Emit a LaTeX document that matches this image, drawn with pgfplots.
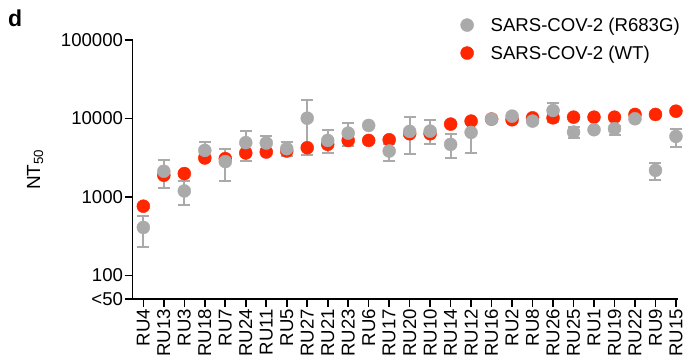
\documentclass[border=0pt]{standalone}
\usepackage{fontspec}
\setmainfont{Liberation Sans}
\usepackage{pgfplots}
\usepackage{pgfplotstable}
\pgfplotsset{compat=1.18}
\definecolor{wtred}{RGB}{255,38,0}
\definecolor{mutgrey}{RGB}{170,170,170}

\pgfplotstableread{
x red
0 762
1 1888
2 1982
3 3133
4 3077
5 3631
6 3733
7 3846
8 4236
9 4677
10 5247
11 5247
12 5356
13 6383
14 6383
15 8471
16 9251
17 9820
18 9620
19 10190
20 10190
21 10390
22 10390
23 10390
24 11250
25 11250
26 12380
}\wttable

\pgfplotstableread{
x grey ep em
0 408 166 176
1 2123 803 808
2 1191 404 413
3 3917 1038 1019
4 2819 1216 1224
5 4918 2052 2020
6 4861 1097 826
7 4120 835 831
8 10085 6855 6696
9 5247 1801 1586
10 6500 2314 2091
11 8150 0 0
12 3846 920 974
13 6836 3554 3280
14 6900 2532 2223
15 4677 1589 1544
16 6640 2980 3051
17 9820 0 0
18 10710 0 0
19 9250 0 0
20 12640 3180 3660
21 6700 1100 1080
22 7180 0 0
23 7400 600 1320
24 9910 0 0
25 2183 553 553
26 5900 1500 1583
}\muttable

\begin{document}
\begin{tikzpicture}
\useasboundingbox (-132.7bp,-63bp) rectangle (556.3bp,299bp);
\begin{axis}[
  at={(0,0)}, anchor=south west,
  scale only axis, width=545.3bp, height=259bp,
  ymode=log, ymin=50, ymax=100000,
  xmin=-0.52, xmax=26.1,
  axis x line=bottom, axis y line=left,
  axis line style={-, line width=1.6bp, black},
  tick style={line width=1.6bp, black},
  tick align=outside, major tick length=8bp,
  yminorticks=false, xminorticks=false,
  ytick={50,100,1000,10000,100000},
  yticklabels={<50,100,1000,10000,100000},
  yticklabel style={font=\fontsize{18.6bp}{20bp}\selectfont, inner sep=1.5bp},
  xtick={0,...,26},
  xticklabels={RU4,RU13,RU3,RU18,RU7,RU24,RU11,RU5,RU27,RU21,RU23,RU6,RU17,RU20,RU10,RU14,RU12,RU16,RU2,RU8,RU26,RU25,RU1,RU19,RU22,RU9,RU15},
  xticklabel style={rotate=90, anchor=east, font=\fontsize{18.6bp}{20bp}\selectfont, inner sep=2bp},
  ylabel={NT\textsubscript{50}},
  ylabel style={font=\fontsize{19bp}{21bp}\selectfont, at={(axis description cs:-0.179,0.5)}, anchor=center, rotate=0},
  legend style={draw=none, fill=none, at={(axis description cs:0.601,1.095)}, anchor=north west, inner sep=0pt,
    font=\fontsize{18.6bp}{20bp}\selectfont, row sep=9bp,
    nodes={inner sep=2bp}},
  legend cell align=left,
  reverse legend,
  legend image code/.code={\path[draw=none,fill=none] (0bp,-6.5bp) rectangle (28bp,6.5bp); \draw[#1] plot coordinates {(6.5bp,0bp)};},
  clip=false,
]
\addplot[only marks, mark=*, mark size=6.5bp, mark options={fill=wtred, draw=none}, color=wtred]
  table[x=x, y=red] {\wttable};
\addlegendentry{SARS-COV-2 (WT)}
\addplot[only marks, mark=*, mark size=6.5bp, mark options={fill=mutgrey, draw=none}, color=mutgrey,
  error bars/.cd, y dir=both, y explicit,
  error bar style={line width=2bp, color=mutgrey},
  error mark options={mark size=6bp, line width=2bp, color=mutgrey, rotate=90}]
  table[x=x, y=grey, y error plus=ep, y error minus=em] {\muttable};
\addlegendentry{SARS-COV-2 (R683G)}
\end{axis}
\node[anchor=base west, inner sep=0pt, font=\fontsize{23bp}{25bp}\selectfont\bfseries] at (-124.7bp,272bp) {d};
\end{tikzpicture}
\end{document}
